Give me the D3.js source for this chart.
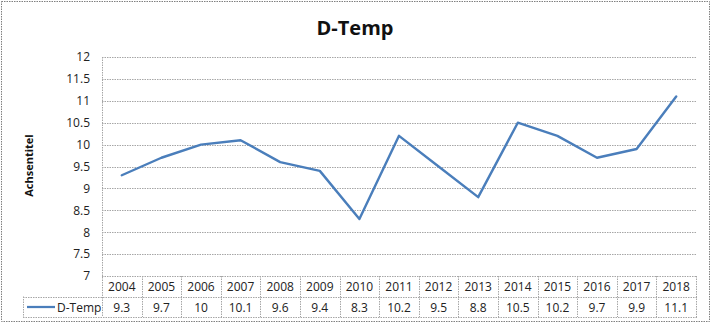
<!DOCTYPE html>
<html>
<head>
<meta charset="utf-8">
<script src="https://cdn.jsdelivr.net/npm/d3@7"></script>
<style>
  html, body { margin: 0; padding: 0; background: #fff; }
  svg { display: block; font-family: "Open Sans", "Liberation Sans", sans-serif; }
</style>
</head>
<body>
<svg id="chart" width="712" height="325"></svg>
<script>
// Yearly mean temperature, Germany
const years = ["2004","2005","2006","2007","2008","2009","2010","2011","2012","2013","2014","2015","2016","2017","2018"];
const temps = [9.3, 9.7, 10, 10.1, 9.6, 9.4, 8.3, 10.2, 9.5, 8.8, 10.5, 10.2, 9.7, 9.9, 11.1];
const yTicks = [7, 7.5, 8, 8.5, 9, 9.5, 10, 10.5, 11, 11.5, 12];
const seriesName = "D-Temp";
const chartTitle = "D-Temp";
const axisTitle = "Achsentitel";

const svg = d3.select("#chart");
const gridColor = "#a6a6a6";
const lineColor = "#4a7ebb";
const dash = "1.5,1";

const plot = { left: 102, right: 696, top: 57, bottom: 276 };
const rowH = 20.5;
const legendLeft = 23;

// outer chart border
svg.append("rect")
  .attr("x", 1.5).attr("y", 1.5).attr("width", 708).attr("height", 320)
  .attr("fill", "#fff").attr("stroke", "#7f7f7f").attr("stroke-width", 1)
  .attr("stroke-dasharray", "1.5,1");

const x = d3.scaleBand().domain(years).range([plot.left, plot.right]);
const y = d3.scaleLinear().domain([7, 12]).range([plot.bottom, plot.top]);

// horizontal gridlines
svg.append("g").selectAll("line").data(yTicks.filter(t => t > 7)).join("line")
  .attr("x1", plot.left).attr("x2", plot.right)
  .attr("y1", d => Math.round(y(d)) + 0.5).attr("y2", d => Math.round(y(d)) + 0.5)
  .attr("stroke", gridColor).attr("stroke-dasharray", dash);

// value axis line
svg.append("line")
  .attr("x1", plot.left + 0.5).attr("x2", plot.left + 0.5)
  .attr("y1", plot.top).attr("y2", plot.bottom + 2 * rowH)
  .attr("stroke", gridColor).attr("stroke-dasharray", dash);

// y tick labels via axis
const yAxis = d3.axisLeft(y).tickValues(yTicks).tickSize(0).tickPadding(12)
  .tickFormat(d => String(d));
const ga = svg.append("g").attr("transform", `translate(${plot.left},0)`).call(yAxis);
ga.select(".domain").remove();
ga.selectAll("text").attr("font-size", 12).attr("fill", "#222")
  .attr("font-family", "'Open Sans', 'Liberation Sans', sans-serif");

// axis title
svg.append("text")
  .attr("transform", `translate(33,${(plot.top + plot.bottom) / 2 - 1}) rotate(-90)`)
  .attr("text-anchor", "middle").attr("font-size", 11).attr("font-weight", "bold")
  .attr("fill", "#111").text(axisTitle);

// chart title
svg.append("text")
  .attr("x", 355).attr("y", 35).attr("text-anchor", "middle")
  .attr("font-size", 20).attr("font-weight", "bold").attr("fill", "#111")
  .text(chartTitle);

// data table
const tbl = svg.append("g");
const r0 = plot.bottom, r1 = plot.bottom + rowH, r2 = plot.bottom + 2 * rowH;
// horizontal rules
[[plot.left, r0], [legendLeft, r1], [legendLeft, r2]].forEach(([x0, yy]) => {
  tbl.append("line").attr("x1", x0).attr("x2", plot.right + 1)
    .attr("y1", Math.round(yy) + 0.5).attr("y2", Math.round(yy) + 0.5)
    .attr("stroke", gridColor).attr("stroke-dasharray", dash);
});
// vertical rules
tbl.append("line").attr("x1", legendLeft + 0.5).attr("x2", legendLeft + 0.5)
  .attr("y1", r1).attr("y2", r2).attr("stroke", gridColor).attr("stroke-dasharray", dash);
years.forEach(yr => {
  const xr = Math.round(x(yr) + x.bandwidth()) + 0.5;
  tbl.append("line").attr("x1", xr).attr("x2", xr).attr("y1", r0).attr("y2", r2)
    .attr("stroke", gridColor).attr("stroke-dasharray", dash);
});
// category labels
tbl.selectAll("text.cat").data(years).join("text").attr("class", "cat")
  .attr("x", d => x(d) + x.bandwidth() / 2).attr("y", r0 + 15)
  .attr("text-anchor", "middle").attr("font-size", 12).attr("fill", "#222").text(d => d);
// values
tbl.selectAll("text.val").data(temps).join("text").attr("class", "val")
  .attr("x", (d, i) => x(years[i]) + x.bandwidth() / 2).attr("y", r1 + 15)
  .attr("text-anchor", "middle").attr("font-size", 12).attr("fill", "#222").text(d => String(d));
// legend key
tbl.append("line").attr("x1", legendLeft + 4).attr("x2", legendLeft + 32)
  .attr("y1", r1 + 10.5).attr("y2", r1 + 10.5).attr("stroke", lineColor).attr("stroke-width", 2.25);
tbl.append("text").attr("x", legendLeft + 34).attr("y", r1 + 15)
  .attr("font-size", 12).attr("fill", "#222").text(seriesName);

// series line
const line = d3.line().x((d, i) => x(years[i]) + x.bandwidth() / 2).y(d => y(d));
svg.append("path").datum(temps).attr("d", line)
  .attr("fill", "none").attr("stroke", lineColor).attr("stroke-width", 2.4)
  .attr("stroke-linejoin", "round").attr("stroke-linecap", "round");
</script>
</body>
</html>
